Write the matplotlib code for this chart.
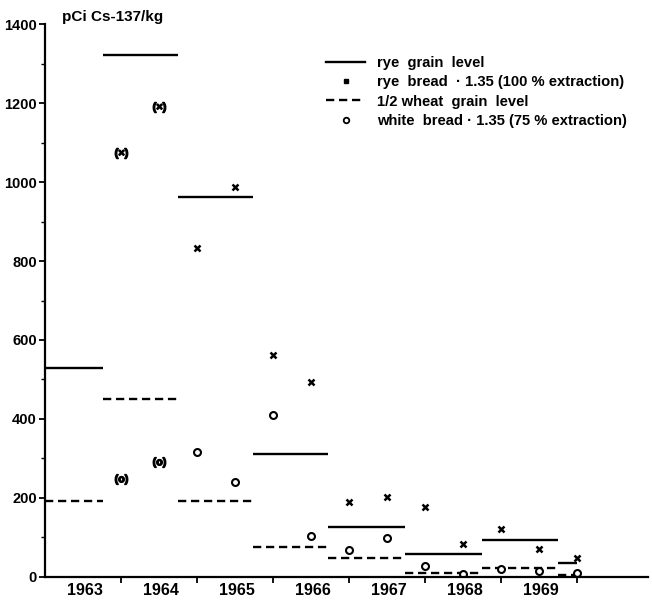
import numpy as np
import matplotlib.pyplot as plt

plt.rcParams['font.family'] = ['Liberation Sans', 'DejaVu Sans']
plt.rcParams['font.weight'] = 'bold'
plt.rcParams['mathtext.fontset'] = 'custom'
plt.rcParams['mathtext.rm'] = 'Liberation Sans:bold'

# harvest-year boundaries and mean levels (pCi Cs-137/kg)
bounds = [1963.0, 1963.76, 1964.75, 1965.74, 1966.72, 1967.74, 1968.75, 1969.75, 1970.0]
rye_grain = [529, 1321, 962, 311, 127, 58, 94, 35]
half_wheat_grain = [192, 451, 192, 76, 48, 10, 23, 5]

# half-yearly bread samples
t_bread = [1964.0, 1964.5, 1965.0, 1965.5, 1966.0, 1966.5, 1967.0,
           1967.5, 1968.0, 1968.5, 1969.0, 1969.5, 1970.0]
rye_bread = [1073, 1190, 833, 987, 562, 494, 190, 203, 177, 84, 121, 71, 48]
white_bread = [248, 291, 316, 240, 410, 104, 68, 99, 28, 8, 21, 15, 10]
n_uncertain = 2  # first two samples are bracketed

years = [1963, 1964, 1965, 1966, 1967, 1968, 1969]

fig = plt.figure(figsize=(6.52, 6.01), dpi=100)
ax = fig.add_axes([0.069, 0.04, 0.925, 0.92])

ax.hlines(rye_grain, bounds[:-1], bounds[1:], colors='black', lw=1.7,
          linestyles='solid')
ax.hlines(half_wheat_grain, bounds[:-1], bounds[1:], colors='black', lw=1.7,
          linestyles=(0, (3.5, 2)))

k = n_uncertain
ax.plot(t_bread[k:], rye_bread[k:], ls='none', marker='x', ms=4.5, mew=1.8,
        color='black')
ax.plot(t_bread[k:], white_bread[k:], ls='none', marker='o', ms=5, mew=1.5,
        mfc='white', color='black')
ax.plot(t_bread[:k], rye_bread[:k], ls='none', marker=r'$(\times)$', ms=9,
        color='black')
ax.plot(t_bread[:k], white_bread[:k], ls='none', marker=r'$(\mathrm{o})$', ms=9,
        color='black')

ax.set_xlim(1963.0, 1970.93)
ax.set_ylim(0, 1400)
ax.spines['top'].set_visible(False)
ax.spines['right'].set_visible(False)
ax.spines['left'].set_linewidth(1.6)
ax.spines['bottom'].set_linewidth(1.6)

ax.set_yticks(np.arange(0, 1401, 200))
ax.set_yticks(np.arange(100, 1400, 200), minor=True)
ax.tick_params(axis='y', which='major', length=4, width=1.3, labelsize=10.5, pad=2)
ax.tick_params(axis='y', which='minor', length=3, width=1.0)

ax.set_xticks(np.arange(1964, 1971))
ax.set_xticklabels([])
ax.set_xticks([y + 0.52 for y in years], minor=True)
ax.set_xticklabels([str(y) for y in years], minor=True)
ax.tick_params(axis='x', which='major', length=4, width=1.3)
ax.tick_params(axis='x', which='minor', length=0, labelsize=11.5, pad=4)

ax.text(0.028, 1.0, 'pCi Cs-137/kg', transform=ax.transAxes, fontsize=11,
        ha='left', va='bottom')

handles = [
    plt.Line2D([], [], color='black', lw=1.7),
    plt.Line2D([], [], ls='none', marker='s', ms=3, color='black'),
    plt.Line2D([], [], color='black', lw=1.7, ls=(0, (3.5, 2))),
    plt.Line2D([], [], ls='none', marker='o', ms=4, mew=1.3, mfc='white',
               color='black'),
]
labels = ['rye  grain  level',
          'rye  bread  \u00b7 1.35 (100 % extraction)',
          '1/2 wheat  grain  level',
          'white  bread \u00b7 1.35 (75 % extraction)']
ax.legend(handles, labels, loc='upper left', bbox_to_anchor=(0.457, 0.953),
          frameon=False, fontsize=10.6, handlelength=2.6, handletextpad=0.8,
          labelspacing=0.36, borderaxespad=0)

fig.savefig('out.png', dpi=100)
